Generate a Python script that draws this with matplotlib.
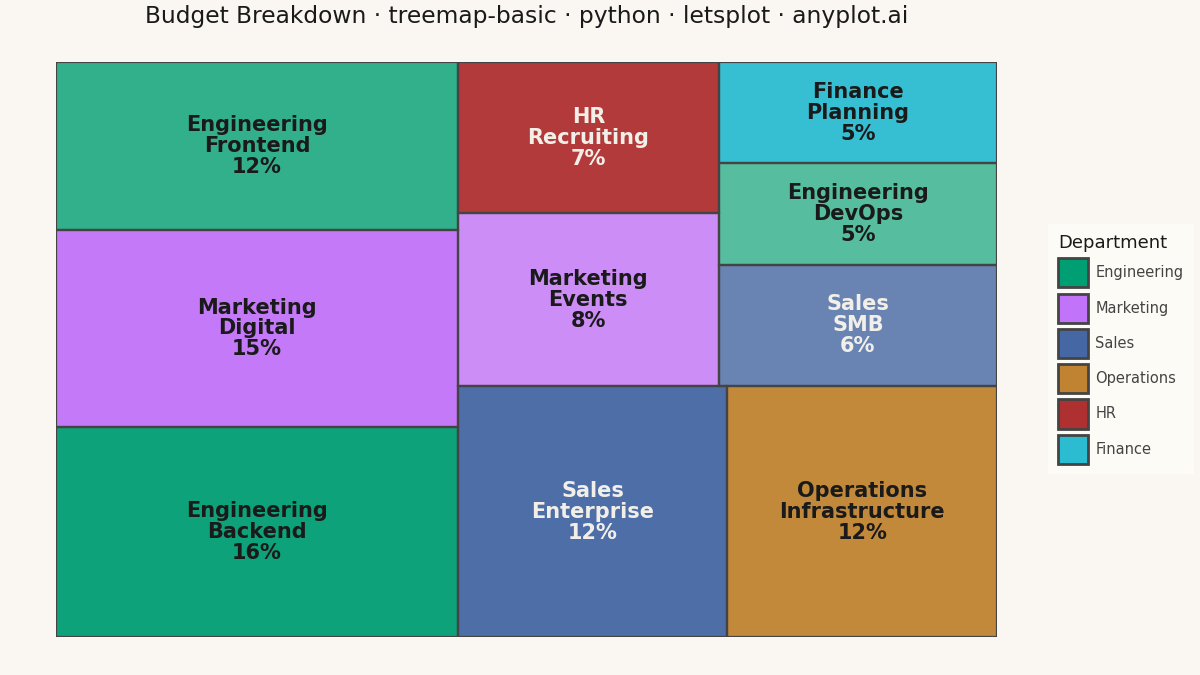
import matplotlib
matplotlib.use("Agg")
import matplotlib.pyplot as plt
from matplotlib.patches import Rectangle, Patch

plt.rcParams["font.family"] = ["DejaVu Sans"]

# ---- data ----
departments = ["Engineering", "Engineering", "Engineering", "Marketing", "Marketing",
               "Sales", "Sales", "Operations", "HR", "Finance"]
subcategories = ["Backend", "Frontend", "DevOps", "Digital", "Events",
                 "Enterprise", "SMB", "Infrastructure", "Recruiting", "Planning"]
budgets = [1500, 1200, 500, 1400, 800, 1200, 600, 1200, 700, 500]
dept_order = ["Engineering", "Marketing", "Sales", "Operations", "HR", "Finance"]

# ---- styles ----
BG = "#faf7f2"
dept_colors = {"Engineering": "#009E73", "Marketing": "#C173F9", "Sales": "#4567A4",
               "Operations": "#BF8331", "HR": "#AF3030", "Finance": "#2BBCD2"}
dark_text = {"Engineering", "Marketing", "Operations", "Finance"}
alphas_by_rank = [0.95, 0.8, 0.65]


# ---- squarify layout ----
def normalize(sizes, dx, dy):
    tot = sum(sizes)
    return [s * dx * dy / tot for s in sizes]


def layoutrow(sizes, x, y, dx, dy):
    w = sum(sizes) / dy
    out = []
    for s in sizes:
        out.append((x, y, w, s / w))
        y += s / w
    return out


def layoutcol(sizes, x, y, dx, dy):
    h = sum(sizes) / dx
    out = []
    for s in sizes:
        out.append((x, y, s / h, h))
        x += s / h
    return out


def layout(sizes, x, y, dx, dy):
    return layoutrow(sizes, x, y, dx, dy) if dx >= dy else layoutcol(sizes, x, y, dx, dy)


def leftover(sizes, x, y, dx, dy):
    if dx >= dy:
        w = sum(sizes) / dy
        return x + w, y, dx - w, dy
    h = sum(sizes) / dx
    return x, y + h, dx, dy - h


def worst(sizes, x, y, dx, dy):
    return max(max(r[2] / r[3], r[3] / r[2]) for r in layout(sizes, x, y, dx, dy))


def squarify(sizes, x, y, dx, dy):
    if not sizes:
        return []
    if len(sizes) == 1:
        return layout(sizes, x, y, dx, dy)
    i = 1
    while i < len(sizes) and worst(sizes[:i], x, y, dx, dy) >= worst(sizes[:i + 1], x, y, dx, dy):
        i += 1
    cur, rem = sizes[:i], sizes[i:]
    lx, ly, ldx, ldy = leftover(cur, x, y, dx, dy)
    return layout(cur, x, y, dx, dy) + squarify(rem, lx, ly, ldx, ldy)


order = sorted(range(len(budgets)), key=lambda k: -budgets[k])
sizes = normalize([budgets[k] for k in order], 100, 100)
rects = squarify(sizes, 0, 0, 100, 100)
total = sum(budgets)

# rank within department (by budget)
rank = {}
for d in dept_order:
    idx = sorted([k for k in range(len(budgets)) if departments[k] == d], key=lambda k: -budgets[k])
    for r, k in enumerate(idx):
        rank[k] = r

fig = plt.figure(figsize=(12, 6.75), dpi=100, facecolor=BG)
ax = fig.add_axes([56 / 1200, 1 - 637 / 675, 941 / 1200, 575 / 675])
ax.set_facecolor(BG)
ax.set_xlim(0, 100)
ax.set_ylim(0, 100)
ax.axis("off")

for k, (x, y, w, h) in zip(order, rects):
    d = departments[k]
    ax.add_patch(Rectangle((x, y), w, h, facecolor=dept_colors[d], alpha=alphas_by_rank[rank[k]],
                           edgecolor="none", zorder=1))
    ax.add_patch(Rectangle((x, y), w, h, facecolor="none", edgecolor="#444444",
                           linewidth=1.6, zorder=2))
    pct = round(100 * budgets[k] / total)
    tc = "#1a1a1a" if d in dark_text else "#f2efe8"
    ax.text(x + w / 2, y + h / 2, f"{d}\n{subcategories[k]}\n{pct}%", ha="center", va="center",
            fontsize=15, fontweight="bold", color=tc, linespacing=1.06, zorder=3)

fig.text(527 / 1200, 1 - 16 / 675, "Budget Breakdown · treemap-basic · python · letsplot · anyplot.ai",
         ha="center", va="center", fontsize=16.8, color="#1a1a1a")

handles = [Patch(facecolor=dept_colors[d], edgecolor="#444444", linewidth=2, label=d) for d in dept_order]
leg = fig.legend(handles=handles, title="Department", loc="center left",
                 bbox_to_anchor=(1048 / 1200, 1 - 349 / 675), frameon=True,
                 facecolor="#fffdf7", edgecolor="none", fontsize=10.5, title_fontsize=13,
                 handlelength=2.05, handleheight=2.7, labelspacing=0.42, handletextpad=0.5,
                 borderpad=0.7, borderaxespad=0, alignment="left", fancybox=False)
for t in leg.get_texts():
    t.set_color("#444444")
leg.get_title().set_color("#1a1a1a")

fig.savefig("out.png", dpi=100, facecolor=BG)
